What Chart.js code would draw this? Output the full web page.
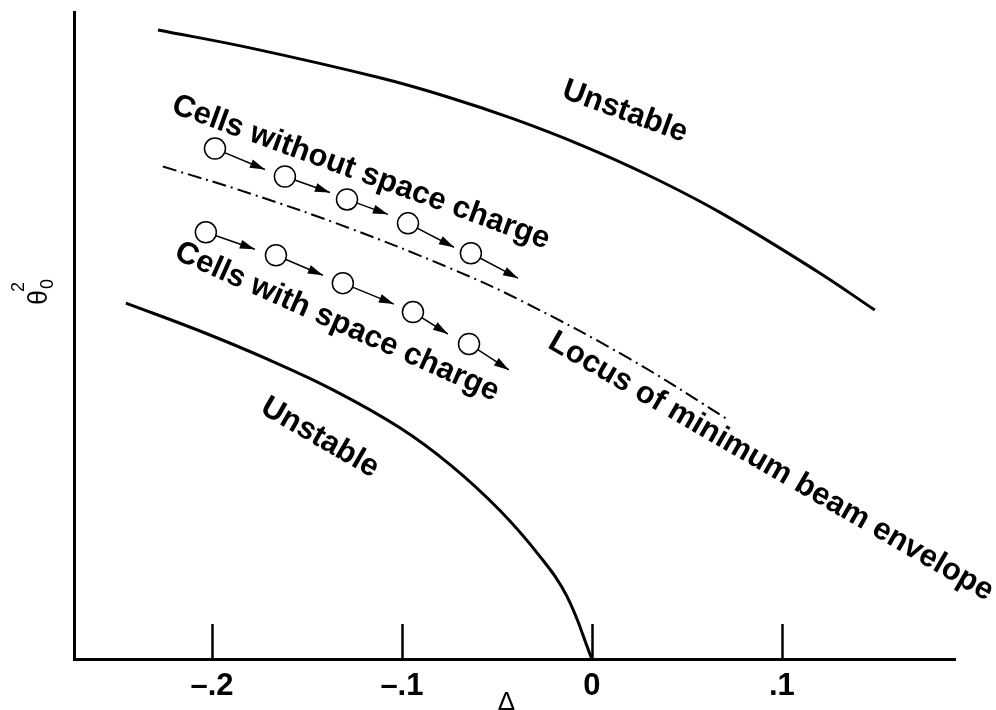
<!DOCTYPE html>
<html>
<head>
<meta charset="utf-8">
<script src="https://cdn.jsdelivr.net/npm/chart.js@4.4.1/dist/chart.umd.min.js"></script>
<style>
  html, body { margin: 0; padding: 0; background: #fff; }
  canvas { display: block; }
</style>
</head>
<body>
<canvas id="chart" width="996" height="710"></canvas>
<script>
// x = Delta, y = theta_0^2 (arbitrary units, axis has no ticks)
const xTickValues = [-0.2, -0.1, 0, 0.1];
const xTickLabels = ['\u2013.2', '\u2013.1', '0', '.1'];

// upper stability boundary
const upperX = [-0.2284, -0.18, -0.1116, -0.0763, -0.0416, -0.0063, 0.0289, 0.0674, 0.1184, 0.1489];
const upperY = [6.31, 6.13, 5.83, 5.64, 5.42, 5.16, 4.86, 4.48, 3.89, 3.50];

// lower stability boundary
const lowerX = [-0.2453, -0.2063, -0.1711, -0.1363, -0.1011, -0.0747, -0.0484, -0.0274, -0.0132, 0];
const lowerY = [3.57, 3.29, 3.01, 2.70, 2.32, 1.95, 1.49, 1.03, 0.63, 0];

// locus of minimum beam envelope (dash-dot)
const locusX = [-0.2258, -0.18, -0.1274, -0.0747, -0.0379, 0.02, 0.0726];
const locusY = [4.94, 4.67, 4.32, 3.92, 3.60, 3.01, 2.39];

// cells without space charge: circle centres and arrow tips
const freeX = [-0.1984, -0.1616, -0.1289, -0.0968, -0.0637];
const freeY = [5.12, 4.84, 4.61, 4.37, 4.07];
const freeTipX = [-0.1721, -0.1379, -0.1074, -0.0726, -0.0389];
const freeTipY = [4.91, 4.68, 4.46, 4.13, 3.82];

// cells with space charge
const scX = [-0.2032, -0.1663, -0.1311, -0.0942, -0.0647];
const scY = [4.28, 4.05, 3.77, 3.48, 3.16];
const scTipX = [-0.1774, -0.1416, -0.1042, -0.0758, -0.0437];
const scTipY = [4.11, 3.85, 3.56, 3.26, 2.90];

// text labels on the diagram
const noteText = ['Unstable', 'Unstable', 'Cells without space charge', 'Cells with space charge', 'Locus of minimum beam envelope'];
const noteX = [0.0174, -0.1432, -0.1216, -0.1342, 0.0942];
const noteY = [5.49, 2.22, 4.88, 3.38, 1.93];
const noteAngle = [20, 30, 20, 24, 30];

const FONT = "'Liberation Sans', Arial, Helvetica, sans-serif";
const pts = (xs, ys) => xs.map((x, i) => ({ x, y: ys[i] }));

const arrowSets = [
  ...freeX.map((x, i) => [{ x, y: freeY[i] }, { x: freeTipX[i], y: freeTipY[i] }]),
  ...scX.map((x, i) => [{ x, y: scY[i] }, { x: scTipX[i], y: scTipY[i] }])
].map((data) => ({
  data, showLine: true, borderColor: '#000', borderWidth: 1.5, pointRadius: 0, tension: 0, arrow: true, order: 5
}));

// tick marks point up into the plot
const innerTicks = {
  id: 'innerTicks',
  afterDraw(chart) {
    const { ctx, scales: { x, y } } = chart;
    const base = y.getPixelForValue(0);
    ctx.save();
    ctx.strokeStyle = '#000';
    ctx.lineWidth = 2.5;
    xTickValues.forEach((v) => {
      const px = Math.round(x.getPixelForValue(v)) + 0.5;
      ctx.beginPath();
      ctx.moveTo(px, base);
      ctx.lineTo(px, base - 35);
      ctx.stroke();
    });
    ctx.restore();
  }
};

const arrowHeads = {
  id: 'arrowHeads',
  afterDatasetsDraw(chart) {
    const ctx = chart.ctx;
    ctx.save();
    ctx.fillStyle = '#000';
    chart.data.datasets.forEach((ds, i) => {
      if (!ds.arrow) return;
      const els = chart.getDatasetMeta(i).data;
      const a = els[0], b = els[1];
      const ang = Math.atan2(b.y - a.y, b.x - a.x);
      ctx.save();
      ctx.translate(b.x, b.y);
      ctx.rotate(ang);
      ctx.beginPath();
      ctx.moveTo(0, 0);
      ctx.lineTo(-15, -4.5);
      ctx.lineTo(-15, 4.5);
      ctx.closePath();
      ctx.fill();
      ctx.restore();
    });
    ctx.restore();
  }
};

const notes = {
  id: 'notes',
  afterDraw(chart) {
    const { ctx, scales: { x, y } } = chart;
    ctx.save();
    ctx.fillStyle = '#000';
    ctx.textAlign = 'center';
    ctx.textBaseline = 'middle';
    ctx.font = `bold 31px ${FONT}`;
    noteText.forEach((t, i) => {
      ctx.save();
      ctx.translate(x.getPixelForValue(noteX[i]), y.getPixelForValue(noteY[i]));
      ctx.rotate(noteAngle[i] * Math.PI / 180);
      ctx.fillText(t, 0, 0);
      ctx.restore();
    });

    // y axis label: theta_0^2, rotated
    ctx.textAlign = 'left';
    ctx.textBaseline = 'alphabetic';
    ctx.save();
    ctx.translate(47, 305);
    ctx.rotate(-Math.PI / 2);
    ctx.font = `27px ${FONT}`;
    ctx.fillText('\u03B8', 0, 0);
    ctx.font = `18px ${FONT}`;
    ctx.fillText('2', 13, -23);
    ctx.fillText('0', 16, 6);
    ctx.restore();

    // x axis label
    ctx.textAlign = 'center';
    ctx.font = `26px ${FONT}`;
    ctx.fillText('\u0394', x.getPixelForValue(-0.045), 710);
    ctx.restore();
  }
};

new Chart(document.getElementById('chart'), {
  type: 'scatter',
  data: {
    datasets: [
      { data: pts(upperX, upperY), showLine: true, borderColor: '#000', borderWidth: 3, pointRadius: 0, tension: 0.4, order: 6 },
      { data: pts(lowerX, lowerY), showLine: true, borderColor: '#000', borderWidth: 3, pointRadius: 0, tension: 0.4, order: 6 },
      { data: pts(locusX, locusY), showLine: true, borderColor: '#000', borderWidth: 2, borderDash: [14, 5, 2, 5], pointRadius: 0, tension: 0.4, order: 6 },
      ...arrowSets,
      { data: pts(freeX, freeY), pointRadius: 10.5, backgroundColor: '#fff', borderColor: '#000', borderWidth: 1.5, order: 1 },
      { data: pts(scX, scY), pointRadius: 10.5, backgroundColor: '#fff', borderColor: '#000', borderWidth: 1.5, order: 1 }
    ]
  },
  options: {
    responsive: false,
    animation: false,
    devicePixelRatio: 1,
    layout: { padding: { left: 74, right: 41, top: 10, bottom: 0 } },
    plugins: { legend: { display: false }, tooltip: { enabled: false } },
    scales: {
      x: {
        type: 'linear',
        min: -0.2726,
        max: 0.1911,
        afterBuildTicks: (s) => { s.ticks = xTickValues.map((value) => ({ value })); },
        afterFit: (s) => { s.height = 51; },
        grid: { display: false, drawTicks: false },
        border: { display: true, color: '#000', width: 3 },
        ticks: {
          padding: 9,
          color: '#000',
          font: { family: FONT, size: 31, weight: 'bold' },
          maxRotation: 0,
          autoSkip: false,
          callback: (v, i) => xTickLabels[i]
        }
      },
      y: {
        type: 'linear',
        min: 0,
        max: 6.49,
        afterFit: (s) => { s.width = 0; },
        grid: { display: false, drawTicks: false },
        border: { display: true, color: '#000', width: 3 },
        ticks: { display: false }
      }
    }
  },
  plugins: [innerTicks, arrowHeads, notes]
});
</script>
</body>
</html>
